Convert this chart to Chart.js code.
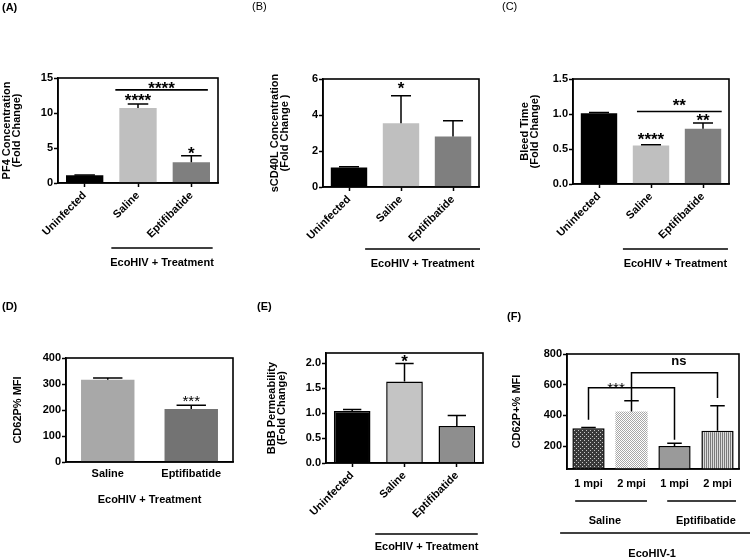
<!DOCTYPE html>
<html><head><meta charset="utf-8">
<script src="https://cdn.jsdelivr.net/npm/chart.js@4.4.1/dist/chart.umd.min.js"></script>
<style>
html,body{margin:0;padding:0;background:#fff;}
#wrap{position:relative;width:750px;height:560px;overflow:hidden;}
canvas{position:absolute;}
</style></head><body>
<div id="wrap">
<canvas id="cA" width="250" height="280" style="left:0px;top:0px"></canvas>
<canvas id="cB" width="250" height="280" style="left:250px;top:0px"></canvas>
<canvas id="cC" width="250" height="280" style="left:500px;top:0px"></canvas>
<canvas id="cD" width="250" height="280" style="left:0px;top:280px"></canvas>
<canvas id="cE" width="250" height="280" style="left:250px;top:280px"></canvas>
<canvas id="cF" width="250" height="280" style="left:500px;top:280px"></canvas>
</div>
<script>
// ---------------- DATA ----------------
const groupsABC = ['Uninfected', 'Saline', 'Eptifibatide'];
const pf4Mean = [1.1, 10.7, 2.95];
const pf4Sem = [0.05, 0.6, 0.95];
const pf4Ticks = [0, 5, 10, 15];

const cd40Mean = [1.08, 3.54, 2.8];
const cd40Sem = [0.04, 1.53, 0.88];
const cd40Ticks = [0, 2, 4, 6];

const bleedMean = [1.01, 0.55, 0.79];
const bleedSem = [0.01, 0.01, 0.08];
const bleedTicks = [0, 0.5, 1.0, 1.5];

const groupsD = ['Saline', 'Eptifibatide'];
const cd62Mean = [316, 204];
const cd62Sem = [7, 14];
const cd62Ticks = [0, 100, 200, 300, 400];

const bbbMean = [1.04, 1.63, 0.74];
const bbbSem = [0.03, 0.36, 0.21];
const bbbTicks = [0, 0.5, 1.0, 1.5, 2.0];

const groupsF = ['1 mpi', '2 mpi', '1 mpi', '2 mpi'];
const cd62tMean = [315, 425, 200, 300];
const cd62tSem = [6, 70, 18, 163];
const cd62tTicks = [200, 400, 600, 800];

// significance annotations (category index, value)
const starsA = [{at: 1, y: 12.15, text: '****'}, {at: 2, y: 4.65, text: '*'}];
const sigLinesA = [{from: 0.575, to: 2.31, y: 13.3, text: '****', ty: 13.95}];
const starsB = [{at: 1, y: 5.64, text: '*'}];
const starsC = [{at: 1, y: 0.667, text: '****'}, {at: 2, y: 0.95, text: '**'}];
const sigLinesC = [{from: 0.73, to: 2.36, y: 1.035, text: '**', ty: 1.16}];
const starsD = [{at: 1, y: 243, text: '***', small: true}];
const starsE = [{at: 1, y: 2.08, text: '*'}];
const bracketsF = [
  {a: 0, ya: 371, b: 2, yb: 240, top: 580, text: '***', tx: 0.64, ty: 595, small: true},
  {a: 1, ya: 495, b: 3, yb: 513, top: 678, text: 'ns', tx: 2.1, ty: 750}
];

// ---------------- RENDERING ----------------
const FONT = '"Liberation Sans", Arial, Helvetica, sans-serif';
Chart.defaults.font.family = FONT;
Chart.defaults.color = '#000';

function makePattern(kind) {
  const c = document.createElement('canvas');
  const g = c.getContext('2d');
  if (kind === 'darkcheck') {
    c.width = 4; c.height = 4;
    g.fillStyle = '#3a3a3a'; g.fillRect(0, 0, 4, 4);
    g.fillStyle = '#c8c8c8'; g.fillRect(0, 0, 1, 1); g.fillRect(2, 2, 1, 1);
  } else if (kind === 'lightcheck') {
    c.width = 2; c.height = 2;
    g.fillStyle = '#ffffff'; g.fillRect(0, 0, 2, 2);
    g.fillStyle = '#a8a8a8'; g.fillRect(0, 0, 1, 1); g.fillRect(1, 1, 1, 1);
  } else {
    c.width = 2; c.height = 1;
    g.fillStyle = '#7a7a7a'; g.fillRect(0, 0, 1, 1);
    g.fillStyle = '#dcdcdc'; g.fillRect(1, 0, 1, 1);
  }
  return g.createPattern(c, 'repeat');
}
const colorsABC = ['#000000', '#bfbfbf', '#7f7f7f'];
const colorsD = ['#a8a8a8', '#737373'];
const colorsE = ['#000000', '#c4c4c4', '#8e8e8e'];
const colorsF = [makePattern('darkcheck'), makePattern('lightcheck'), '#9a9a9a', makePattern('stripes')];

function drawAnnText(ctx, text, x, cy, small) {
  if (text.indexOf('*') >= 0) {
    const size = small ? 15 : 17;
    ctx.font = (small ? 'normal ' : 'bold ') + size + 'px ' + FONT;
    ctx.textAlign = 'center'; ctx.textBaseline = 'alphabetic';
    ctx.fillText(text, x, cy + 0.48 * size);
  } else {
    const size = 13;
    ctx.font = 'bold ' + size + 'px ' + FONT;
    ctx.textAlign = 'center'; ctx.textBaseline = 'alphabetic';
    ctx.fillText(text, x, cy + 0.27 * size);
  }
}

function makePlugin(cfg) {
  return {
    id: 'panel_' + cfg.id,
    afterDatasetsDraw(chart) {
      const ctx = chart.ctx, y = chart.scales.y;
      const meta = chart.getDatasetMeta(0);
      ctx.save();
      ctx.strokeStyle = '#000'; ctx.lineWidth = 1.5;
      meta.data.forEach((bar, i) => {
        const v = cfg.values[i], e = cfg.errors[i];
        const base = y.getPixelForValue(v), top = y.getPixelForValue(v + e);
        const cw = bar.width * cfg.capFrac / 2;
        ctx.beginPath();
        ctx.moveTo(bar.x, base); ctx.lineTo(bar.x, top);
        ctx.moveTo(bar.x - cw, top); ctx.lineTo(bar.x + cw, top);
        ctx.stroke();
      });
      ctx.restore();
    },
    afterDraw(chart) {
      const ctx = chart.ctx, x = chart.scales.x, y = chart.scales.y, a = chart.chartArea;
      ctx.save();
      ctx.strokeStyle = '#000'; ctx.fillStyle = '#000'; ctx.lineWidth = 1.6;
      ctx.strokeRect(a.left, a.top, a.right - a.left, a.bottom - a.top);
      ctx.font = (cfg.letterBold ? 'bold ' : 'normal ') + '11px ' + FONT;
      ctx.textAlign = 'left'; ctx.textBaseline = 'middle';
      ctx.fillText(cfg.letter, cfg.letterPos[0], cfg.letterPos[1]);
      (cfg.stars || []).forEach(s => {
        drawAnnText(ctx, s.text, x.getPixelForValue(s.at), y.getPixelForValue(s.y), s.small);
      });
      ctx.lineWidth = 1.6;
      (cfg.sigLines || []).forEach(s => {
        const x1 = x.getPixelForValue(s.from), x2 = x.getPixelForValue(s.to), py = y.getPixelForValue(s.y);
        ctx.beginPath(); ctx.moveTo(x1, py); ctx.lineTo(x2, py); ctx.stroke();
        drawAnnText(ctx, s.text, (x1 + x2) / 2, y.getPixelForValue(s.ty), s.small);
      });
      ctx.lineWidth = 1.5;
      (cfg.brackets || []).forEach(b => {
        const xa = x.getPixelForValue(b.a), xb = x.getPixelForValue(b.b), pt = y.getPixelForValue(b.top);
        ctx.beginPath();
        ctx.moveTo(xa, y.getPixelForValue(b.ya)); ctx.lineTo(xa, pt);
        ctx.lineTo(xb, pt); ctx.lineTo(xb, y.getPixelForValue(b.yb));
        ctx.stroke();
        drawAnnText(ctx, b.text, x.getPixelForValue(b.tx), y.getPixelForValue(b.ty), b.small);
      });
      ctx.lineWidth = 1.5;
      ctx.font = 'bold 11px ' + FONT;
      (cfg.groups || []).forEach(g => {
        if (g.line) {
          const x1 = x.getPixelForValue(g.from), x2 = x.getPixelForValue(g.to);
          ctx.beginPath(); ctx.moveTo(x1, g.py); ctx.lineTo(x2, g.py); ctx.stroke();
        }
        if (g.text) {
          const tx = g.tat !== undefined ? x.getPixelForValue(g.tat) : (x.getPixelForValue(g.from) + x.getPixelForValue(g.to)) / 2;
          ctx.textAlign = 'center'; ctx.textBaseline = 'middle';
          ctx.fillText(g.text, tx, g.ty);
        }
      });
      ctx.restore();
    }
  };
}

function makePanel(cfg) {
  const W = 250, H = 280;
  return new Chart(document.getElementById(cfg.id), {
    type: 'bar',
    data: {
      labels: cfg.labels,
      datasets: [{
        data: cfg.values,
        backgroundColor: cfg.colors,
        borderColor: '#000',
        borderWidth: cfg.borderWidth || 0,
        barPercentage: cfg.barPct,
        categoryPercentage: 1
      }]
    },
    options: {
      responsive: false, animation: false, devicePixelRatio: 1,
      layout: {padding: {left: 0, top: cfg.area.top, right: W - cfg.area.right, bottom: 0}},
      plugins: {legend: {display: false}, tooltip: {enabled: false}},
      scales: {
        x: {
          grid: {display: true, drawOnChartArea: false, drawTicks: cfg.xTicks !== false, tickLength: 4, tickColor: '#000', tickWidth: 1.5, offset: false},
          border: {display: true, color: '#000', width: 1.5},
          ticks: {color: '#000', font: {size: 11, weight: 'bold'}, minRotation: cfg.rot, maxRotation: cfg.rot, autoSkip: false, padding: cfg.xPad},
          afterFit: s => { s.height = H - cfg.area.bottom; }
        },
        y: {
          min: cfg.min, max: cfg.max,
          afterBuildTicks: s => { s.ticks = cfg.ticks.map(v => ({value: v})); },
          grid: {display: true, drawOnChartArea: false, drawTicks: true, tickLength: 4, tickColor: '#000', tickWidth: 1.5},
          border: {display: true, color: '#000', width: 1.5},
          ticks: {color: '#000', font: {size: 11, weight: 'bold'}, padding: 1, callback: v => cfg.fmt(v)},
          title: {display: true, text: cfg.yTitle, color: '#000', font: {size: 11, weight: 'bold', lineHeight: 0.95}, padding: {top: cfg.titlePad, bottom: 0}},
          afterFit: s => { s.width = cfg.area.left; }
        }
      }
    },
    plugins: [makePlugin(cfg)]
  });
}

const f0 = v => String(v);
const f1 = v => Number(v).toFixed(1);

makePanel({id: 'cA', labels: groupsABC, values: pf4Mean, errors: pf4Sem, colors: colorsABC,
  area: {left: 58, top: 78, right: 218, bottom: 183}, min: 0, max: 15, ticks: pf4Ticks, fmt: f0,
  yTitle: ['PF4 Concentration', '(Fold Change)'], titlePad: 1.5, rot: 45, xPad: 2, barPct: 0.7, capFrac: 0.55,
  letter: '(A)', letterPos: [2, 8], letterBold: true, stars: starsA, sigLines: sigLinesA,
  groups: [{line: true, from: 0.5, to: 2.4, py: 248, text: 'EcoHIV + Treatment', ty: 263}]});

makePanel({id: 'cB', labels: groupsABC, values: cd40Mean, errors: cd40Sem, colors: colorsABC,
  area: {left: 73, top: 79, right: 229, bottom: 187}, min: 0, max: 6, ticks: cd40Ticks, fmt: f0,
  yTitle: ['sCD40L Concentration', '(Fold Change )'], titlePad: 19.5, rot: 45, xPad: 2, barPct: 0.7, capFrac: 0.55,
  letter: '(B)', letterPos: [2, 7], letterBold: false, stars: starsB,
  groups: [{line: true, from: 0.31, to: 2.52, py: 249, text: 'EcoHIV + Treatment', ty: 264}]});

makePanel({id: 'cC', labels: groupsABC, values: bleedMean, errors: bleedSem, colors: colorsABC,
  area: {left: 73, top: 79, right: 229, bottom: 184}, min: 0, max: 1.5, ticks: bleedTicks, fmt: f1,
  yTitle: ['Bleed Time', '(Fold Change)'], titlePad: 19.5, rot: 45, xPad: 2, barPct: 0.7, capFrac: 0.55,
  letter: '(C)', letterPos: [2, 7], letterBold: false, stars: starsC, sigLines: sigLinesC,
  groups: [{line: true, from: 0.46, to: 2.48, py: 249, text: 'EcoHIV + Treatment', ty: 264}]});

makePanel({id: 'cD', labels: groupsD, values: cd62Mean, errors: cd62Sem, colors: colorsD,
  area: {left: 66, top: 78, right: 233, bottom: 182}, min: 0, max: 400, ticks: cd62Ticks, fmt: f0,
  yTitle: 'CD62P% MFI', titlePad: 12.5, rot: 0, xPad: 5, xTicks: false, barPct: 0.64, capFrac: 0.55,
  letter: '(D)', letterPos: [2, 27], letterBold: true, stars: starsD,
  groups: [{line: false, from: 0, to: 1, text: 'EcoHIV + Treatment', ty: 220}]});

makePanel({id: 'cE', labels: groupsABC, values: bbbMean, errors: bbbSem, colors: colorsE, borderWidth: 1.5,
  area: {left: 76, top: 73, right: 233, bottom: 183}, min: 0, max: 2.2, ticks: bbbTicks, fmt: f1,
  yTitle: ['BBB Permeability', '(Fold Change)'], titlePad: 16.5, rot: 45, xPad: 2, barPct: 0.7, capFrac: 0.5,
  letter: '(E)', letterPos: [7, 27], letterBold: true, stars: starsE,
  groups: [{line: true, from: 0.44, to: 2.4, py: 254, text: 'EcoHIV + Treatment', ty: 267}]});

makePanel({id: 'cF', labels: groupsF, values: cd62tMean, errors: cd62tSem, colors: colorsF, borderWidth: [1.5, 0, 1.5, 1.5],
  area: {left: 67, top: 74, right: 239, bottom: 189}, min: 50, max: 800, ticks: cd62tTicks, fmt: f0,
  yTitle: 'CD62P+% MFI', titlePad: 11.5, rot: 0, xPad: 8, xTicks: false, barPct: 0.75, capFrac: 0.45,
  letter: '(F)', letterPos: [7, 37], letterBold: true, brackets: bracketsF,
  groups: [
    {line: true, from: -0.31, to: 1.36, py: 221, text: 'Saline', tat: 0.38, ty: 241},
    {line: true, from: 1.83, to: 3.43, py: 221, text: 'Eptifibatide', tat: 2.73, ty: 241},
    {line: true, from: -0.66, to: 3.76, py: 253, text: 'EcoHIV-1', tat: 1.48, ty: 274}
  ]});
</script>
</body></html>
